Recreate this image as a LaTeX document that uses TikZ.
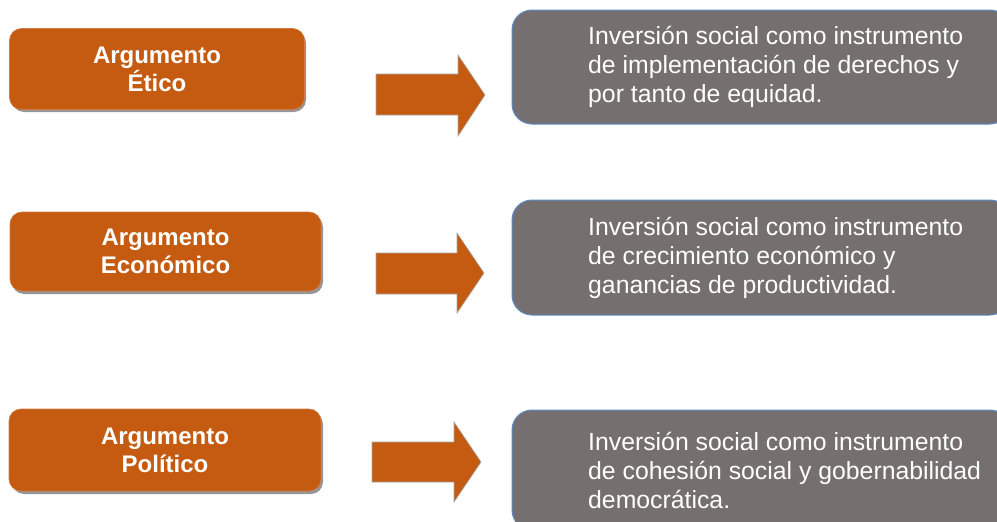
\documentclass[tikz,border=0pt]{standalone}
\usepackage{fontspec}
\setmainfont{Liberation Sans}
\definecolor{argorange}{RGB}{197,90,17}
\definecolor{boxgray}{RGB}{117,112,111}
\definecolor{boxedge}{RGB}{91,140,200}
\definecolor{shadowgray}{RGB}{150,150,150}
\begin{document}
\begin{tikzpicture}[x=1pt,y=-1pt,
  argbox/.style={rectangle, rounded corners=12pt, fill=argorange, draw=argorange!80!white, line width=0.6pt,
    text=white, font=\bfseries\fontsize{24}{28}\selectfont, align=center, inner sep=0pt},
  argshadow/.style={rounded corners=12pt, fill=shadowgray},
  resbox/.style={rectangle, rounded corners=20pt, fill=boxgray, draw=boxedge, line width=1pt, inner sep=0pt},
  restext/.style={text=white, font=\fontsize{24.8}{29}\selectfont, align=left, anchor=west, inner sep=0pt},
  blockarrow/.style={fill=argorange, draw=gray!70, line width=0.6pt}]
\useasboundingbox (0,0) rectangle (997,522);
\clip (0,0) rectangle (997,522);

% shadows
\fill[argshadow] (12,31) rectangle (306,112);
\fill[argshadow] (12,215) rectangle (323,294);
\fill[argshadow] (12,412) rectangle (323,494);

% orange boxes
\node[argbox, minimum width=295pt, minimum height=81pt] (a1) at (157,69) {Argumento\\Ético};
\node[argbox, minimum width=311pt, minimum height=79pt] (a2) at (165.5,251.5) {Argumento\\Económico};
\node[argbox, minimum width=312pt, minimum height=82pt] (a3) at (165,450) {Argumento\\Político};

% block arrows
\filldraw[blockarrow] (376,74) -- (458,74) -- (458,55) -- (485,95) -- (458,136) -- (458,115) -- (376,115) -- cycle;
\filldraw[blockarrow] (376,253) -- (457,253) -- (457,233) -- (484,273) -- (457,313) -- (457,294) -- (376,294) -- cycle;
\filldraw[blockarrow] (372,442) -- (454,442) -- (454,422) -- (481,462) -- (454,502) -- (454,482) -- (372,482) -- cycle;

% gray boxes
\node[resbox, minimum width=498pt, minimum height=114pt] (r1) at (761,67) {};
\node[resbox, minimum width=498pt, minimum height=115pt] (r2) at (761,257.5) {};
\node[resbox, minimum width=498pt, minimum height=120pt] (r3) at (761,470) {};

\node[restext] (t1) at (588,67) {Inversión social como instrumento\\de implementación de derechos y\\por tanto de equidad.};
\node[restext] (t2) at (588,258) {Inversión social como instrumento\\de crecimiento económico y\\ganancias de productividad.};
\node[restext] (t3) at (588,470) {Inversión social como instrumento\\de cohesión social y gobernabilidad\\democrática.};
\end{tikzpicture}
\end{document}
